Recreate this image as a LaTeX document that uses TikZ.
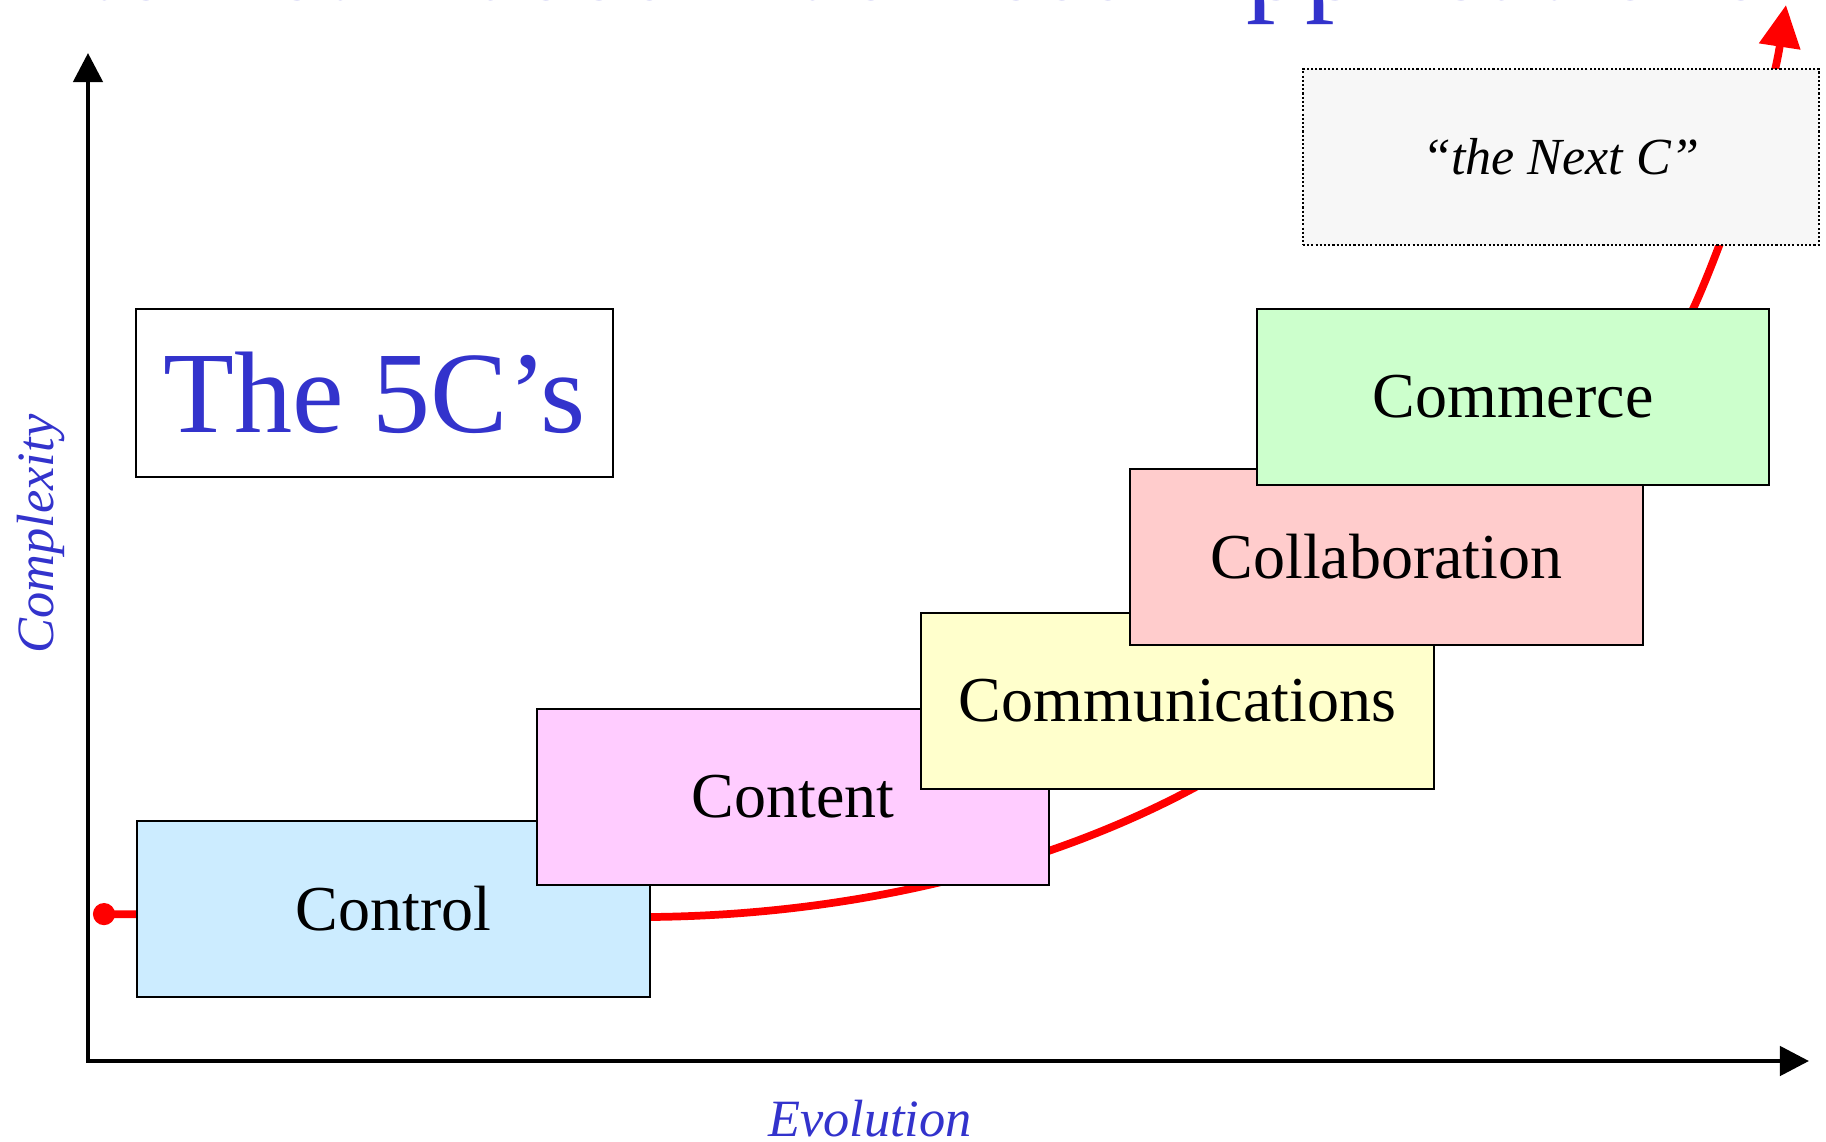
\documentclass[tikz,border=0pt]{standalone}
\usepackage{fontspec}
\setmainfont{Liberation Serif}
\usetikzlibrary{arrows.meta}
\definecolor{cblue}{RGB}{51,51,204}
\definecolor{ccontrol}{RGB}{204,236,255}
\definecolor{ccontent}{RGB}{255,204,255}
\definecolor{ccomm}{RGB}{255,255,204}
\definecolor{ccollab}{RGB}{255,204,204}
\definecolor{ccommerce}{RGB}{204,255,204}
\definecolor{cnext}{RGB}{247,247,247}

\begin{document}
\begin{tikzpicture}[x=0.01cm,y=-0.01cm,
    cbox/.style={draw,line width=0.57pt,minimum width=5.12cm,minimum height=1.76cm,inner sep=0pt,font=\fontsize{18.2}{22}\selectfont},
    axisline/.style={line width=1.3pt,{Triangle[length=0.29cm,width=0.29cm]}-{Triangle[length=0.29cm,width=0.29cm]}},
    trend/.style={red,line width=2.2pt,{Circle[length=0.22cm]}-{Triangle[length=0.42cm,width=0.4cm]}},
    alabel/.style={text=cblue,font=\fontsize{14.9}{18}\selectfont\itshape}]
  \useasboundingbox (0,0) rectangle (1826,1142);
  \begin{scope}
    \clip (0,0) rectangle (1826,1142);
    \node[anchor=base west,inner sep=0pt,text=cblue,font=\fontsize{33.6}{40}\selectfont] (title) at (-14,-1) {Internet-Based Business Applications};
  \end{scope}

  \coordinate (ytip) at (88,53);
  \coordinate (xtip) at (1809,1061);
  \draw[axisline] (ytip) |- (xtip);

  \coordinate (dot) at (93,914);
  \coordinate (tip) at (1786,5);
  \draw[trend] (dot) .. controls (400,916) and (560,918) .. (651,917)
    .. controls (851,915) and (1042,869) .. (1192,789)
    .. controls (1372,694) and (1583,540) .. (1693,309)
    .. controls (1718,256) and (1770,110) .. (tip);

  \node[cbox,fill=ccontrol] (control) at (393.5,909) {Control};
  \node[cbox,fill=ccontent] (content) at (793,797) {Content};
  \node[cbox,fill=ccomm] (comm) at (1177.5,701) {Communications};
  \node[cbox,fill=ccollab] (collab) at (1386.5,557) {Collaboration};
  \node[cbox,fill=ccommerce] (commerce) at (1513,397) {Commerce};
  \node[cbox,fill=cnext,line width=0.5pt,dash pattern=on 0.6pt off 0.6pt,minimum width=5.16cm,font=\fontsize{14.8}{18}\selectfont\itshape] (nextc) at (1561,157) {“the Next C”};

  \node[draw,fill=white,line width=0.57pt,minimum width=4.77cm,minimum height=1.68cm,inner sep=0pt,text=cblue,font=\fontsize{33}{40}\selectfont] (fivec) at (374.5,393) {The 5C’s};

  \node[alabel,rotate=90,anchor=base] (ylabel) at (54,534) {Complexity};
  \node[alabel,anchor=base] (xlabel) at (870,1136) {Evolution};
\end{tikzpicture}
\end{document}
